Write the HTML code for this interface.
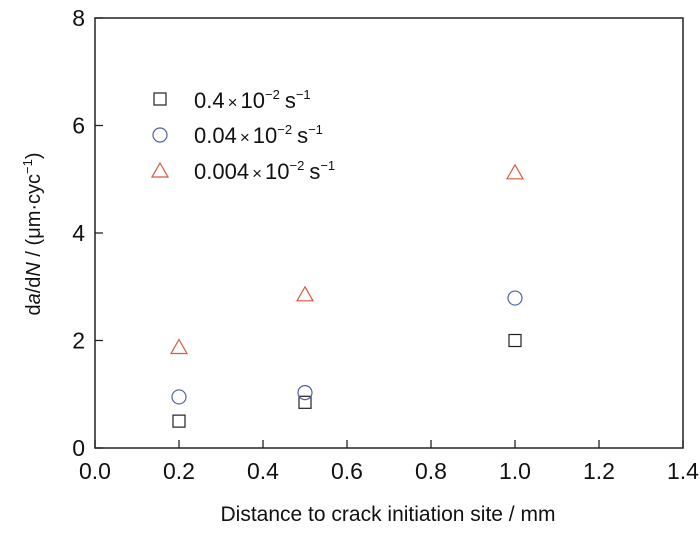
<!DOCTYPE html>
<html><head><meta charset="utf-8">
<style>
body{margin:0;background:#fff;}
svg text{font-family:"Liberation Sans",sans-serif;fill:#111;}
</style></head>
<body>
<svg width="700" height="530" viewBox="0 0 700 530">
<g id="axes"></g>
<g id="marks"></g>
<g id="legend">
  <rect x="154" y="93" width="12" height="12" fill="none" stroke="#222" stroke-width="1.2"/>
  <text x="194" y="108" font-size="22">0.4<tspan font-size="17" dx="3">×</tspan><tspan dx="3">10</tspan><tspan font-size="13" dy="-9">−2</tspan><tspan dy="9" dx="5">s</tspan><tspan font-size="13" dy="-9">−1</tspan></text>
  <circle cx="160" cy="135" r="7" fill="none" stroke="#5060a8" stroke-width="1.2"/>
  <text x="194" y="143" font-size="22">0.04<tspan font-size="17" dx="3">×</tspan><tspan dx="3">10</tspan><tspan font-size="13" dy="-9">−2</tspan><tspan dy="9" dx="5">s</tspan><tspan font-size="13" dy="-9">−1</tspan></text>
  <polygon points="160,163 168,177 152,177" fill="none" stroke="#d85a40" stroke-width="1.2"/>
  <text x="194" y="179" font-size="22">0.004<tspan font-size="17" dx="3">×</tspan><tspan dx="3">10</tspan><tspan font-size="13" dy="-9">−2</tspan><tspan dy="9" dx="5">s</tspan><tspan font-size="13" dy="-9">−1</tspan></text>
</g>
<text x="388" y="521" font-size="21" text-anchor="middle">Distance to crack initiation site / mm</text>
<text transform="translate(40,234) rotate(-90)" font-size="20" text-anchor="middle">d<tspan font-style="italic">a</tspan>/d<tspan font-style="italic">N</tspan> / (μm·cyc<tspan font-size="13" dy="-8">−1</tspan><tspan dy="8">)</tspan></text>
</svg>
<script>
const xTicks=[0,0.2,0.4,0.6,0.8,1.0,1.2,1.4];
const xTickLabels=["0.0","0.2","0.4","0.6","0.8","1.0","1.2","1.4"];
const yTicks=[0,2,4,6,8];
const yTickLabels=["0","2","4","6","8"];
const xValues=[0.2,0.5,1.0];
const squareValues=[0.5,0.85,2.0];
const circleValues=[0.95,1.03,2.79];
const triangleValues=[1.87,2.85,5.12];

const L=95,R=683,T=18,B=448;
function xs(v){return L+(v-0)/(1.4-0)*(R-L);}
function ys(v){return B-(v-0)/(8-0)*(B-T);}
const NS="http://www.w3.org/2000/svg";
function mk(tag,attrs,parent){const e=document.createElementNS(NS,tag);for(const k in attrs)e.setAttribute(k,attrs[k]);parent.appendChild(e);return e;}
const axes=document.getElementById('axes');
const marks=document.getElementById('marks');
let f=mk('rect',{x:L,y:T,width:R-L,height:B-T,fill:'none',stroke:'#222','stroke-width':1.5},axes);


xTicks.forEach((v,i)=>{
  let t=mk('line',{x1:xs(v),x2:xs(v),y1:B,y2:B-8,stroke:'#222','stroke-width':1.3},axes);
  
  
  let l=mk('text',{x:xs(v),y:B+31,'font-size':23,'text-anchor':'middle'},axes);
  l.textContent=xTickLabels[i];
  
  
});
yTicks.forEach((v,i)=>{
  let t=mk('line',{x1:L,x2:L+8,y1:ys(v),y2:ys(v),stroke:'#222','stroke-width':1.3},axes);
  
  
  let l=mk('text',{x:L-10,y:ys(v)+8,'font-size':23,'text-anchor':'end'},axes);
  l.textContent=yTickLabels[i];
  
  
});
xValues.forEach((x,i)=>{
  let s=mk('rect',{x:xs(x)-6,y:ys(squareValues[i])-6,width:12,height:12,fill:'none',stroke:'#222','stroke-width':1.2},marks);
  
  
  let c=mk('circle',{cx:xs(x),cy:ys(circleValues[i]),r:7,fill:'none',stroke:'#5060a8','stroke-width':1.2},marks);
  
  
  const cx=xs(x),cy=ys(triangleValues[i]);
  let p=mk('polygon',{points:`${cx},${cy-8} ${cx+8},${cy+6} ${cx-8},${cy+6}`,fill:'none',stroke:'#d85a40','stroke-width':1.2},marks);
  
  
});
</script>
</body></html>
